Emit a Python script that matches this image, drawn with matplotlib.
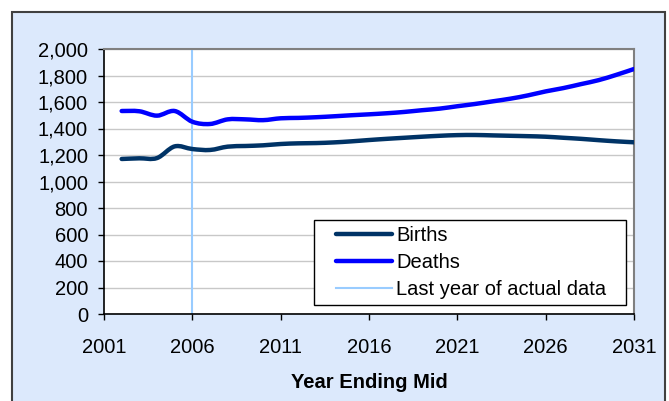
import numpy as np
import matplotlib.pyplot as plt
from matplotlib.patches import Rectangle, PathPatch
from matplotlib.path import Path
from matplotlib.lines import Line2D

# Datos
years = list(range(2002, 2032))
births = [1170, 1175, 1177, 1265, 1245, 1238, 1263, 1268, 1273, 1283,
          1288, 1290, 1295, 1303, 1313, 1322, 1330, 1338, 1345, 1350,
          1351, 1348, 1345, 1342, 1338, 1330, 1322, 1312, 1303, 1296]
deaths = [1532, 1530, 1497, 1532, 1451, 1434, 1469, 1469, 1463, 1477,
          1480, 1485, 1492, 1500, 1507, 1515, 1525, 1538, 1550, 1568,
          1585, 1605, 1625, 1650, 1680, 1705, 1735, 1765, 1805, 1849]
last_actual = 2006
x_ticks = [2001, 2006, 2011, 2016, 2021, 2026, 2031]
y_ticks = list(range(0, 2001, 200))

BIRTHS_C = '#003366'
DEATHS_C = '#0000FF'
LAST_C = '#99CCFF'


def smooth_path(x, y):
    # curva suavizada tipo Excel (Bezier que pasa por cada punto)
    x = np.asarray(x, float)
    y = np.asarray(y, float)
    verts = [(x[0], y[0])]
    codes = [Path.MOVETO]
    n = len(x)
    for i in range(n - 1):
        x0, y0 = (x[i - 1], y[i - 1]) if i > 0 else (x[i], y[i])
        x3, y3 = (x[i + 2], y[i + 2]) if i + 2 < n else (x[i + 1], y[i + 1])
        c1 = (x[i] + (x[i + 1] - x0) / 6, y[i] + (y[i + 1] - y0) / 6)
        c2 = (x[i + 1] - (x3 - x[i]) / 6, y[i + 1] - (y3 - y[i]) / 6)
        verts += [c1, c2, (x[i + 1], y[i + 1])]
        codes += [Path.CURVE4] * 3
    return Path(verts, codes)


plt.rcParams['font.family'] = ['Liberation Sans', 'DejaVu Sans']

fig = plt.figure(figsize=(6.69, 4.01), dpi=100, facecolor='white')
# Marco del área del gráfico
fig.patches.append(Rectangle((12 / 669, -0.05), 653 / 669, 1 - 12 / 401 + 0.05,
                             transform=fig.transFigure, facecolor='#DCE9FC',
                             edgecolor='#404040', linewidth=1.5, zorder=-1))

ax = fig.add_axes([104 / 669, 1 - 314 / 401, 530 / 669, 265 / 401])
ax.set_facecolor('white')

for vals, col in [(births, BIRTHS_C), (deaths, DEATHS_C)]:
    ax.add_patch(PathPatch(smooth_path(years, vals), facecolor='none', edgecolor=col,
                           linewidth=3.2, capstyle='round', joinstyle='round', zorder=3))
ax.axvline(last_actual, color=LAST_C, linewidth=1.5, zorder=2)

ax.set_xlim(2001, 2031)
ax.set_ylim(0, 2000)
ax.set_xticks(x_ticks)
ax.set_yticks(y_ticks)
ax.set_yticklabels([f'{v:,}' for v in y_ticks])
ax.tick_params(axis='both', labelsize=14.5, direction='out', length=4.5, width=1, color='black')
ax.tick_params(axis='x', pad=13)
ax.tick_params(axis='y', pad=7)
ax.grid(axis='y', color='#C8C8C8', linewidth=1)
ax.set_axisbelow(True)

for side in ['left', 'bottom']:
    ax.spines[side].set_color('black')
    ax.spines[side].set_linewidth(1.2)
for side in ['top', 'right']:
    ax.spines[side].set_color('#808080')
    ax.spines[side].set_linewidth(1.5)

ax.set_xlabel('Year Ending Mid', fontsize=14.5, fontweight='bold', labelpad=11)

# Recuadro de la leyenda
ax.add_patch(Rectangle((0.396, 0.034), 0.589, 0.321, transform=ax.transAxes,
                       facecolor='white', edgecolor='black', linewidth=1, zorder=4.5))
handles = [Line2D([], [], color=BIRTHS_C, linewidth=3.2, solid_capstyle='round'),
           Line2D([], [], color=DEATHS_C, linewidth=3.2, solid_capstyle='round'),
           Line2D([], [], color=LAST_C, linewidth=1.5)]
leg = ax.legend(handles, ['Births', 'Deaths', 'Last year of actual data'],
                loc='center left', bbox_to_anchor=(0.438, 0.1945), borderaxespad=0,
                fontsize=14.5, handlelength=2.78, handletextpad=0.2, labelspacing=0.4,
                frameon=False, borderpad=0)
leg.set_zorder(5)

fig.savefig('out.png', dpi=100)
